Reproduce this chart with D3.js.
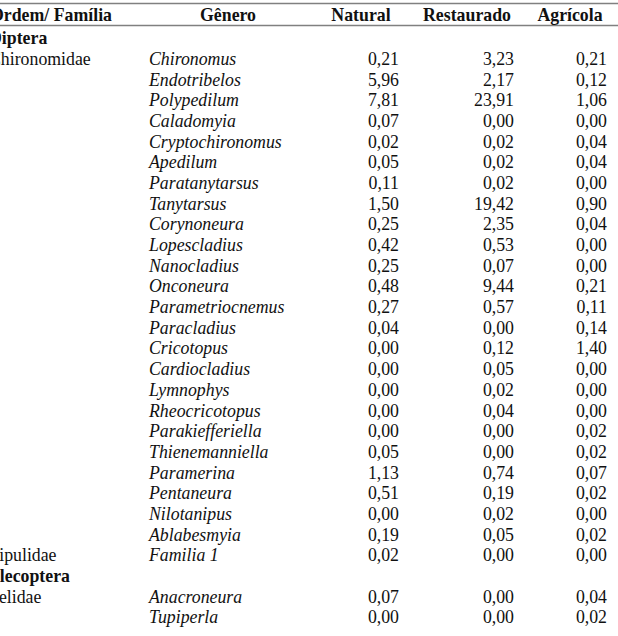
<!DOCTYPE html>
<html>
  <head>
    <meta charset="UTF-8" />
    <style>
      body {
        margin: 0;
        background: #fff;
      }
      text {
        font-family: 'Liberation Serif', 'Times New Roman', serif;
        font-size: 17.8px;
        fill: #111;
      }
      .head {
        font-weight: bold;
      }
      .ordem {
        font-weight: bold;
      }
      .genero {
        font-style: italic;
      }
    </style>
  </head>
  <body>
    <svg></svg>

    <script src="https://d3js.org/d3.v7.min.js"></script>

    <script>
      let width = 618,
        height = 636

      // colunas da tabela
      const colunas = ['Ordem/ Família', 'Gênero', 'Natural', 'Restaurado', 'Agrícola']

      // gêneros (linhas)
      const generos = [
        'Chironomus', 'Endotribelos', 'Polypedilum', 'Caladomyia', 'Cryptochironomus',
        'Apedilum', 'Paratanytarsus', 'Tanytarsus', 'Corynoneura', 'Lopescladius',
        'Nanocladius', 'Onconeura', 'Parametriocnemus', 'Paracladius', 'Cricotopus',
        'Cardiocladius', 'Lymnophys', 'Rheocricotopus', 'Parakiefferiella', 'Thienemanniella',
        'Paramerina', 'Pentaneura', 'Nilotanipus', 'Ablabesmyia', 'Familia 1',
        'Anacroneura', 'Tupiperla'
      ]

      const natural = [
        0.21, 5.96, 7.81, 0.07, 0.02, 0.05, 0.11, 1.5, 0.25, 0.42, 0.25, 0.48, 0.27, 0.04,
        0.0, 0.0, 0.0, 0.0, 0.0, 0.05, 1.13, 0.51, 0.0, 0.19, 0.02, 0.07, 0.0
      ]
      const restaurado = [
        3.23, 2.17, 23.91, 0.0, 0.02, 0.02, 0.02, 19.42, 2.35, 0.53, 0.07, 9.44, 0.57, 0.0,
        0.12, 0.05, 0.02, 0.04, 0.0, 0.0, 0.74, 0.19, 0.02, 0.05, 0.0, 0.0, 0.0
      ]
      const agricola = [
        0.21, 0.12, 1.06, 0.0, 0.04, 0.04, 0.0, 0.9, 0.04, 0.0, 0.0, 0.21, 0.11, 0.14,
        1.4, 0.0, 0.0, 0.0, 0.02, 0.02, 0.07, 0.02, 0.0, 0.02, 0.0, 0.04, 0.02
      ]

      // ordem: linha inserida antes do gênero de índice dado
      const ordens = [
        { nome: 'Diptera', antes: 0 },
        { nome: 'Plecoptera', antes: 25 },
      ]
      // família: mostrada na linha do gênero de índice dado
      const familias = [
        { nome: 'Chironomidae', em: 0 },
        { nome: 'Tipulidae', em: 24 },
        { nome: 'Pelidae', em: 25 },
      ]

      // monta as linhas
      let linhas = []
      generos.forEach((g, i) => {
        ordens.filter((o) => o.antes === i).forEach((o) => linhas.push({ ordem: o.nome }))
        let f = familias.find((f) => f.em === i)
        linhas.push({
          familia: f ? f.nome : '',
          genero: g,
          valores: [natural[i], restaurado[i], agricola[i]],
        })
      })

      let svg = d3.select('svg').attr('width', width).attr('height', height)

      let y = d3
        .scaleBand()
        .domain(d3.range(linhas.length))
        .range([27.7, 627.4])

      let xCol = d3.scaleOrdinal().domain(colunas).range([-11, 149, 399, 514, 607])
      let xHead = d3.scaleOrdinal().domain(colunas).range([-10, 228, 361, 467, 570])

      let loc = d3.formatLocale({ decimal: ',', thousands: '.', grouping: [3], currency: ['', ''] })
      let fmt = loc.format('.2f')

      // linhas horizontais
      svg
        .selectAll('line.rule')
        .data([3.5, 25.5])
        .enter()
        .append('line')
        .attr('class', 'rule')
        .attr('x1', 0)
        .attr('x2', width)
        .attr('y1', (d) => d)
        .attr('y2', (d) => d)
        .attr('stroke', '#808080')
        .attr('stroke-width', 1.6)

      // cabeçalho
      svg
        .selectAll('text.head')
        .data(colunas)
        .enter()
        .append('text')
        .attr('class', 'head')
        .attr('x', (d) => xHead(d))
        .attr('y', 14.5)
        .attr('dy', '0.35em')
        .attr('text-anchor', (d, i) => (i === 0 ? 'start' : 'middle'))
        .text((d) => d)

      let rows = svg
        .selectAll('g.linha')
        .data(linhas)
        .enter()
        .append('g')
        .attr('class', 'linha')
        .attr('transform', (d, i) => 'translate(0,' + (y(i) + y.bandwidth() / 2) + ')')

      rows
        .filter((d) => d.ordem)
        .append('text')
        .attr('class', 'ordem')
        .attr('x', xCol(colunas[0]))
        .attr('dy', '0.35em')
        .text((d) => d.ordem)

      let gen = rows.filter((d) => d.genero)

      gen
        .append('text')
        .attr('x', xCol(colunas[0]))
        .attr('dy', '0.35em')
        .text((d) => d.familia)

      gen
        .append('text')
        .attr('class', 'genero')
        .attr('x', xCol(colunas[1]))
        .attr('dy', '0.35em')
        .text((d) => d.genero)

      gen
        .selectAll('text.valor')
        .data((d) => d.valores)
        .enter()
        .append('text')
        .attr('class', 'valor')
        .attr('x', (d, i) => xCol(colunas[i + 2]))
        .attr('dy', '0.35em')
        .attr('text-anchor', 'end')
        .text((d) => fmt(d))
    </script>
  </body>
</html>
